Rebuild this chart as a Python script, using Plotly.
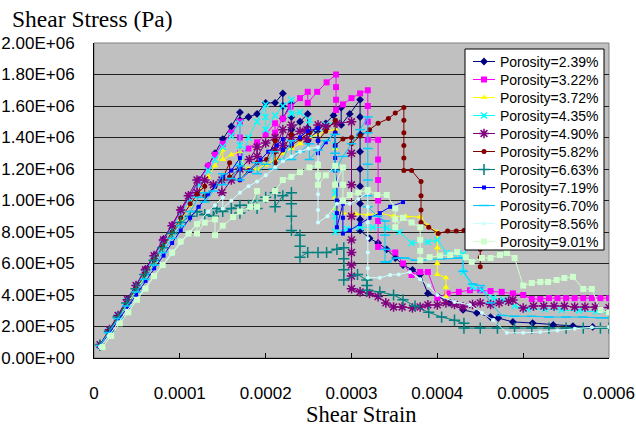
import plotly.graph_objects as go

# Strain values below are in units of 1e-4, stress values in units of 1e5 Pa.
STRAIN_UNIT = 1e-4
STRESS_UNIT = 1e5

P239 = [(0.07, 0.8), (0.17, 1.7), (0.28, 2.7), (0.38, 3.7), (0.49, 4.6), (0.59, 5.6), (0.70, 6.5), (0.80, 7.5),
        (0.91, 8.4), (1.01, 9.4), (1.12, 10.3), (1.22, 11.3), (1.33, 12.2), (1.41, 13.0), (1.50, 13.9), (1.60, 14.7),
        (1.70, 15.6), (1.70, 15.1), (1.80, 15.3), (1.90, 15.5), (2.00, 16.2), (2.11, 16.2), (2.20, 16.8), (2.20, 16.0),
        (2.20, 15.2), (2.30, 16.2), (2.30, 15.3), (2.30, 14.5), (2.40, 15.0), (2.49, 15.5), (2.49, 14.6), (2.49, 13.8),
        (2.60, 14.4), (2.70, 14.9), (2.79, 15.4), (2.88, 15.9), (2.88, 14.8), (2.98, 15.5), (3.10, 16.4), (3.10, 15.3),
        (3.10, 14.2), (3.10, 13.1), (3.10, 12.0), (3.10, 10.9), (3.10, 9.8), (3.10, 8.8), (3.10, 8.1), (3.21, 7.6),
        (3.31, 7.3), (3.41, 6.9), (3.51, 6.35), (3.60, 5.9), (3.71, 5.6), (3.80, 5.3), (3.89, 4.1), (4.01, 3.9),
        (4.15, 3.5), (4.30, 3.05), (4.46, 2.86), (4.62, 2.6), (4.71, 2.54), (4.88, 2.29), (5.11, 2.22), (5.35, 2.10),
        (5.58, 2.03), (5.81, 1.97)]

P322 = [(0.07, 0.8), (0.17, 1.7), (0.28, 2.7), (0.38, 3.6), (0.49, 4.5), (0.59, 5.5), (0.70, 6.4), (0.80, 7.4),
        (0.91, 8.4), (1.01, 9.3), (1.12, 10.3), (1.22, 11.2), (1.33, 12.2), (1.41, 12.9), (1.50, 13.6), (1.60, 14.3),
        (1.70, 15.0), (1.70, 14.0), (1.70, 13.0), (1.80, 13.3), (1.90, 13.7), (2.00, 14.2), (2.11, 14.9), (2.11, 14.3),
        (2.20, 15.2), (2.29, 15.96), (2.40, 16.5), (2.49, 16.9), (2.49, 16.2), (2.60, 16.9), (2.71, 17.5), (2.82, 18.0),
        (2.82, 17.2), (2.82, 16.4), (2.82, 15.75), (2.90, 16.1), (3.00, 16.5), (3.10, 16.8), (3.19, 17.0), (3.19, 16.0),
        (3.19, 15.0), (3.19, 13.85), (3.31, 13.85), (3.31, 12.6), (3.31, 11.3), (3.31, 10.0), (3.31, 8.7), (3.31, 7.05),
        (3.51, 6.7), (3.60, 6.0), (3.70, 5.27), (3.80, 5.46), (3.89, 5.46), (4.00, 3.8), (4.12, 4.1), (4.25, 4.2),
        (4.38, 4.3), (4.50, 4.3), (4.62, 4.25), (4.75, 4.2), (4.88, 4.1), (5.00, 4.0), (5.10, 3.75), (5.20, 3.75),
        (5.30, 3.8), (5.40, 3.8), (5.50, 3.8), (5.60, 3.8), (5.70, 3.8), (5.80, 3.8), (5.90, 3.8), (6.00, 3.8)]

P372 = [(0.07, 0.8), (0.17, 1.6), (0.28, 2.5), (0.38, 3.4), (0.49, 4.3), (0.59, 5.2), (0.70, 6.1), (0.80, 7.0),
        (0.91, 7.9), (1.01, 8.8), (1.12, 9.7), (1.22, 10.6), (1.33, 11.5), (1.41, 12.2), (1.50, 13.2), (1.50, 12.6),
        (1.60, 12.9), (1.70, 13.1), (1.70, 12.6), (1.80, 12.0), (1.90, 12.0), (2.00, 12.25), (2.11, 12.6), (2.20, 13.0),
        (2.30, 13.3), (2.40, 13.6), (2.51, 14.0), (2.61, 14.2), (2.70, 14.4), (2.81, 14.5), (2.81, 13.3), (2.81, 12.2),
        (2.81, 11.1), (2.81, 10.2), (2.81, 9.5), (2.90, 9.2), (3.05, 9.15), (3.19, 9.1), (3.33, 9.2), (3.49, 9.0),
        (3.63, 9.0), (3.80, 8.95), (3.89, 8.4), (4.00, 8.0), (4.00, 7.0), (4.00, 6.0), (4.00, 5.3), (4.10, 5.1),
        (4.10, 4.5), (4.10, 3.9)]

P435 = [(0.07, 0.8), (0.17, 1.7), (0.28, 2.6), (0.38, 3.6), (0.49, 4.5), (0.59, 5.4), (0.70, 6.3), (0.80, 7.3),
        (0.91, 8.2), (1.01, 9.1), (1.12, 10.1), (1.22, 11.0), (1.33, 11.9), (1.41, 12.6), (1.50, 13.4), (1.60, 14.1),
        (1.70, 14.9), (1.70, 13.5), (1.70, 12.2), (1.80, 14.0), (1.90, 15.0), (2.00, 16.1), (2.00, 15.3), (2.00, 14.5),
        (2.11, 15.4), (2.20, 16.0), (2.30, 16.4), (2.30, 15.5), (2.40, 15.6), (2.51, 15.1), (2.51, 14.2), (2.61, 14.6),
        (2.70, 14.8), (2.81, 15.0), (2.81, 13.5), (2.81, 12.0), (2.81, 10.5), (2.81, 9.0), (2.81, 8.0), (2.95, 8.2),
        (3.10, 8.3), (3.25, 8.3), (3.41, 8.26), (3.56, 8.0), (3.70, 7.3), (3.89, 7.37), (4.00, 7.49), (4.11, 6.67),
        (4.23, 6.67), (4.30, 6.6), (4.30, 5.46), (4.41, 4.5), (4.52, 4.32), (4.65, 3.8), (4.77, 3.7), (4.90, 3.3),
        (5.05, 3.1), (5.25, 3.1), (5.45, 3.05), (5.65, 3.0), (5.85, 2.95), (6.00, 2.9)]

P490 = [(0.07, 0.85), (0.18, 1.8), (0.28, 2.7), (0.39, 3.7), (0.49, 4.6), (0.60, 5.6), (0.70, 6.5), (0.81, 7.5),
        (0.91, 8.4), (1.01, 9.4), (1.10, 10.3), (1.20, 11.3), (1.20, 10.5), (1.29, 11.3), (1.39, 11.0), (1.49, 11.3),
        (1.49, 10.5), (1.60, 11.3), (1.70, 12.0), (1.81, 12.6), (1.90, 13.4), (1.90, 12.8), (2.00, 13.65), (2.11, 14.0),
        (2.11, 13.2), (2.20, 14.5), (2.20, 13.5), (2.30, 14.8), (2.30, 14.0), (2.40, 14.4), (2.48, 14.5), (2.48, 13.9),
        (2.61, 14.8), (2.70, 14.7), (2.83, 14.9), (3.00, 15.0), (3.00, 13.0), (3.00, 11.0), (3.00, 9.0), (3.00, 7.5),
        (3.00, 6.7), (3.00, 5.9), (3.00, 5.2), (3.00, 4.4), (3.10, 4.2), (3.21, 4.1), (3.31, 3.9), (3.40, 3.5),
        (3.49, 3.24), (3.59, 3.24), (3.71, 3.17), (3.80, 3.24), (3.89, 3.37), (4.00, 3.37), (4.10, 3.5), (4.20, 3.4),
        (4.30, 3.24), (4.41, 3.4), (4.50, 3.5), (4.62, 3.4), (4.72, 3.5), (4.83, 3.6), (4.88, 3.68), (5.00, 3.17),
        (5.12, 3.3), (5.24, 3.3), (5.36, 3.3), (5.48, 3.3), (5.60, 3.24), (5.72, 3.24), (5.84, 3.24), (6.00, 3.2)]

P582 = [(0.07, 0.8), (0.17, 1.7), (0.28, 2.6), (0.38, 3.5), (0.49, 4.4), (0.59, 5.3), (0.70, 6.2), (0.80, 7.1),
        (0.91, 8.0), (1.01, 8.9), (1.12, 9.8), (1.20, 10.4), (1.29, 10.9), (1.29, 10.3), (1.41, 10.9), (1.50, 11.4),
        (1.58, 12.4), (1.58, 11.5), (1.70, 12.0), (1.70, 11.3), (1.80, 11.9), (1.90, 12.4), (2.01, 12.6), (2.11, 13.8),
        (2.11, 13.1), (2.11, 12.4), (2.20, 13.2), (2.30, 14.2), (2.30, 13.5), (2.40, 13.9), (2.51, 14.3), (2.61, 14.6),
        (2.61, 13.8), (2.70, 14.4), (2.81, 15.1), (2.81, 14.3), (2.81, 13.5), (2.90, 13.9), (3.00, 14.0), (3.00, 13.6),
        (3.10, 14.1), (3.21, 14.5), (3.31, 14.9), (3.43, 15.2), (3.51, 15.55), (3.61, 15.9), (3.61, 15.1), (3.61, 14.3),
        (3.61, 13.5), (3.61, 12.7), (3.61, 11.9), (3.70, 11.9), (3.81, 11.2), (3.81, 10.3), (3.81, 9.4), (3.81, 8.6),
        (3.90, 8.3), (4.01, 7.9), (4.12, 8.06), (4.22, 8.06), (4.31, 8.1), (4.40, 8.2), (4.50, 6.9), (4.50, 6.4),
        (4.50, 5.8)]

P663 = [(0.07, 0.8), (0.18, 1.7), (0.28, 2.6), (0.38, 3.5), (0.49, 4.4), (0.59, 5.3), (0.70, 6.2), (0.80, 7.0),
        (0.91, 7.9), (1.01, 8.6), (1.12, 9.0), (1.20, 9.3), (1.29, 9.1), (1.39, 9.0), (1.43, 9.5), (1.50, 9.3),
        (1.60, 9.5), (1.70, 9.7), (1.70, 9.2), (1.80, 9.7), (1.90, 10.0), (1.90, 9.5), (2.00, 10.2), (2.11, 10.5),
        (2.11, 9.6), (2.20, 10.3), (2.30, 10.5), (2.30, 9.8), (2.30, 9.0), (2.30, 8.1), (2.40, 7.8), (2.40, 7.1),
        (2.40, 6.4), (2.49, 6.7), (2.61, 6.7), (2.71, 6.7), (2.83, 6.9), (2.91, 7.0), (2.91, 6.3), (2.91, 5.6),
        (2.91, 4.95), (3.07, 5.3), (3.18, 4.95), (3.18, 4.6), (3.18, 4.3), (3.33, 4.2), (3.49, 4.0), (3.60, 3.7),
        (3.74, 3.3), (3.90, 2.9), (4.05, 2.6), (4.20, 2.4), (4.31, 2.2), (4.31, 1.9), (4.50, 1.9), (4.70, 1.9),
        (4.90, 1.9), (5.10, 1.9), (5.30, 1.9), (5.50, 1.9), (5.70, 1.9), (5.90, 1.9), (6.00, 1.9)]

P719 = [(0.07, 0.7), (0.18, 1.6), (0.28, 2.4), (0.39, 3.2), (0.49, 4.0), (0.60, 4.9), (0.70, 5.7), (0.81, 6.5),
        (0.91, 7.3), (1.01, 8.1), (1.12, 8.9), (1.22, 9.6), (1.33, 10.4), (1.41, 10.9), (1.50, 11.5), (1.60, 11.9),
        (1.70, 12.7), (1.70, 12.0), (1.70, 11.3), (1.82, 11.9), (1.94, 12.6), (2.03, 13.1), (2.13, 13.5), (2.20, 13.9),
        (2.20, 13.2), (2.30, 13.6), (2.40, 14.0), (2.49, 14.4), (2.61, 14.6), (2.61, 13.8), (2.61, 13.0), (2.70, 13.7),
        (2.81, 14.3), (2.81, 13.5), (2.81, 12.7), (2.81, 11.9), (2.83, 11.0), (2.83, 10.0), (2.83, 9.2), (2.83, 8.3),
        (2.90, 9.8), (2.90, 8.9), (2.90, 7.9), (2.98, 8.1), (3.10, 8.5), (3.21, 8.9), (3.33, 9.2), (3.45, 9.6),
        (3.60, 9.9)]

P670 = [(0.07, 0.8), (0.17, 1.6), (0.28, 2.5), (0.38, 3.3), (0.49, 4.2), (0.59, 5.0), (0.70, 5.9), (0.80, 6.7),
        (0.91, 7.6), (1.01, 8.4), (1.12, 9.3), (1.22, 10.2), (1.29, 10.5), (1.29, 9.9), (1.39, 10.6), (1.50, 11.7),
        (1.50, 11.0), (1.60, 11.4), (1.70, 12.2), (1.70, 11.3), (1.81, 11.9), (1.90, 12.4), (1.90, 11.7), (2.00, 12.3),
        (2.09, 13.1), (2.09, 12.0), (2.20, 12.6), (2.30, 13.8), (2.30, 12.6), (2.40, 13.1), (2.51, 13.6), (2.51, 12.6),
        (2.61, 13.2), (2.70, 13.8), (2.81, 14.2), (2.81, 13.0), (2.81, 11.9), (2.90, 12.8), (3.00, 13.6), (3.10, 14.5),
        (3.19, 15.3), (3.19, 14.3), (3.19, 13.3), (3.19, 12.3), (3.19, 11.3), (3.19, 10.3), (3.19, 9.6), (3.30, 9.0),
        (3.39, 8.7), (3.39, 7.8), (3.39, 6.9), (3.39, 6.1), (3.41, 6.1), (3.53, 6.35), (3.62, 6.35), (3.75, 6.2),
        (3.90, 6.25), (4.05, 6.3), (4.20, 6.35), (4.30, 6.35), (4.30, 5.5), (4.41, 4.7), (4.50, 4.6), (4.62, 3.5),
        (4.75, 2.7), (4.90, 2.65), (5.10, 2.65), (5.30, 2.6), (5.50, 2.6), (5.70, 2.6), (5.90, 2.55), (6.00, 2.55)]

P856 = [(0.07, 0.7), (0.17, 1.4), (0.28, 2.2), (0.38, 3.0), (0.49, 3.7), (0.59, 4.4), (0.70, 5.2), (0.80, 5.9),
        (0.91, 6.6), (1.01, 7.3), (1.12, 8.0), (1.22, 8.6), (1.33, 9.3), (1.41, 9.7), (1.50, 10.2), (1.50, 9.5),
        (1.60, 10.0), (1.70, 10.5), (1.80, 10.9), (1.90, 11.2), (2.00, 11.6), (2.11, 12.1), (2.20, 12.5), (2.30, 12.8),
        (2.40, 13.1), (2.50, 13.3), (2.61, 13.4), (2.61, 12.4), (2.61, 11.4), (2.61, 10.4), (2.61, 9.4), (2.61, 8.6),
        (2.72, 9.0), (2.83, 9.8), (2.98, 9.8), (3.08, 10.1), (3.19, 10.5), (3.19, 9.6), (3.19, 8.6), (3.19, 7.6),
        (3.19, 6.7), (3.19, 5.7), (3.19, 5.1), (3.33, 5.1), (3.45, 5.27), (3.55, 5.3), (3.68, 5.46), (3.80, 5.0),
        (3.90, 4.6), (4.00, 4.0), (4.20, 3.56), (4.38, 3.37), (4.52, 2.86), (4.65, 2.41), (4.81, 1.6), (5.00, 1.6),
        (5.20, 1.65), (5.40, 1.75), (5.60, 1.85), (5.80, 1.95), (6.00, 1.97)]

P901 = [(0.10, 0.7), (0.20, 1.4), (0.30, 2.2), (0.40, 2.9), (0.50, 3.7), (0.60, 4.4), (0.70, 5.2), (0.80, 5.9),
        (0.91, 6.7), (1.01, 7.4), (1.10, 7.9), (1.20, 8.5), (1.20, 7.9), (1.29, 8.6), (1.41, 8.8), (1.41, 7.8),
        (1.50, 8.4), (1.62, 8.95), (1.70, 9.3), (1.82, 9.6), (1.90, 10.6), (1.90, 9.6), (2.00, 10.1), (2.11, 10.6),
        (2.20, 11.3), (2.30, 11.5), (2.40, 11.8), (2.51, 12.1), (2.61, 12.25), (2.61, 11.6), (2.61, 11.0), (2.70, 11.6),
        (2.81, 12.2), (2.81, 11.0), (2.90, 12.1), (2.90, 11.0), (2.90, 10.0), (2.98, 10.35), (3.08, 10.5), (3.19, 10.67),
        (3.30, 10.35), (3.41, 10.35), (3.51, 9.5), (3.51, 8.8), (3.51, 8.3), (3.60, 8.9), (3.70, 8.6), (3.80, 8.3),
        (3.80, 7.5), (3.80, 6.8), (3.80, 6.2), (3.91, 6.4), (4.03, 6.5), (4.15, 6.54), (4.23, 6.73), (4.33, 6.4),
        (4.40, 6.1), (4.52, 6.35), (4.62, 6.35), (4.73, 6.54), (4.81, 6.67), (4.90, 6.35), (5.00, 4.6), (5.10, 4.76),
        (5.20, 4.83), (5.29, 4.83), (5.39, 4.95), (5.48, 5.08), (5.58, 5.15), (5.70, 4.38), (5.80, 4.38), (5.90, 3.05),
        (6.00, 2.9)]

SERIES_NAMES = ["Porosity=2.39%", "Porosity=3.22%", "Porosity=3.72%", "Porosity=4.35%", "Porosity=4.90%",
                "Porosity=5.82%", "Porosity=6.63%", "Porosity=7.19%", "Porosity=6.70%", "Porosity=8.56%",
                "Porosity=9.01%"]
SERIES_DATA = [P239, P322, P372, P435, P490, P582, P663, P719, P670, P856, P901]

X_TICKS = [0, 0.0001, 0.0002, 0.0003, 0.0004, 0.0005, 0.0006]
X_LABELS = ["0", "0.0001", "0.0002", "0.0003", "0.0004", "0.0005", "0.0006"]
Y_TICKS = [0, 2e5, 4e5, 6e5, 8e5, 1e6, 1.2e6, 1.4e6, 1.6e6, 1.8e6, 2e6]
Y_LABELS = ["0.00E+00", "2.00E+05", "4.00E+05", "6.00E+05", "8.00E+05", "1.00E+06",
            "1.20E+06", "1.40E+06", "1.60E+06", "1.80E+06", "2.00E+06"]

# colour, marker symbol, marker size, outline-only marker
STYLES = [
    ("#000080", "diamond", 6, False),
    ("#FF00FF", "square", 6, False),
    ("#FFFF00", "triangle-up", 6, False),
    ("#00FFFF", "x-thin", 6, True),
    ("#800080", "asterisk", 8, True),
    ("#800000", "circle", 5, False),
    ("#008080", "cross-thin", 8, True),
    ("#0000FF", "square", 4, False),
    ("#00CCFF", "line-ew", 7, True),
    ("#CCFFFF", "circle", 4, False),
    ("#CCFFCC", "square", 6, False),
]

SANS = "Liberation Sans, Arial, sans-serif"
SERIF = "Liberation Serif, Times New Roman, serif"

# Plot area in pixels (the legend is laid out on an overlay in these units)
PLOT_W, PLOT_H = 515, 315
KEY_BOX = (371, 510, 6, 207)       # left, right, top, bottom
KEY_ROW0, KEY_ROW_STEP = 18.5, 18.0
KEY_LINE = (379, 390, 401)        # line start, marker, line end
KEY_TEXT_X = 404


def marker_style(color, symbol, size, outline):
    m = dict(symbol=symbol, size=size, color=color)
    m["line"] = dict(width=1.5, color=color) if outline else dict(width=0)
    return m


fig = go.Figure()
for name, pts, (color, symbol, size, outline) in zip(SERIES_NAMES, SERIES_DATA, STYLES):
    xs = [p[0] * STRAIN_UNIT for p in pts]
    ys = [p[1] * STRESS_UNIT for p in pts]
    fig.add_trace(go.Scatter(x=xs, y=ys, name=name, mode="lines+markers",
                             line=dict(color=color, width=1),
                             marker=marker_style(color, symbol, size, outline)))

# legend frame on the overlay axes so it sits above the curves
l, r, t, b = KEY_BOX
fig.add_trace(go.Scatter(x=[l, r, r, l, l], y=[t, t, b, b, t], xaxis="x2", yaxis="y2",
                         mode="lines", fill="toself", fillcolor="white",
                         line=dict(color="black", width=1), hoverinfo="skip"))

annotations = []
for i, (name, (color, symbol, size, outline)) in enumerate(zip(SERIES_NAMES, STYLES)):
    row_y = KEY_ROW0 + i * KEY_ROW_STEP
    m = marker_style(color, symbol, size, outline)
    m["opacity"] = [0, 1, 0]
    fig.add_trace(go.Scatter(x=list(KEY_LINE), y=[row_y] * 3, xaxis="x2", yaxis="y2",
                             mode="lines+markers", line=dict(color=color, width=1),
                             marker=m, hoverinfo="skip"))
    annotations.append(dict(text=name, xref="x2", yref="y2", x=KEY_TEXT_X, y=row_y,
                            xanchor="left", yanchor="middle", showarrow=False,
                            font=dict(family=SANS, size=14, color="black")))

annotations += [
    dict(text="Shear Stress (Pa)", xref="paper", yref="paper", x=-0.163, y=1.076,
         xanchor="left", yanchor="middle", showarrow=False,
         font=dict(family=SERIF, size=23.5, color="black")),
    dict(text="Shear Strain", xref="paper", yref="paper", x=0.52, y=-0.18,
         xanchor="center", yanchor="middle", showarrow=False,
         font=dict(family=SERIF, size=22.5, color="black")),
]

fig.update_layout(
    width=636, height=431,
    margin=dict(l=94, r=27, t=43, b=73, autoexpand=False),
    paper_bgcolor="white",
    plot_bgcolor="#C0C0C0",
    font=dict(family=SANS, size=16, color="black"),
    showlegend=False,
    xaxis=dict(range=[0, 0.0006], tickmode="array", tickvals=X_TICKS, ticktext=X_LABELS,
               ticks="inside", ticklen=5, tickcolor="black", tickwidth=1,
               showline=True, linecolor="black", linewidth=1, mirror=False,
               showgrid=False, zeroline=False, ticklabelstandoff=20, automargin=False,
               tickfont=dict(family=SANS, size=17)),
    yaxis=dict(range=[0, 2e6], tickmode="array", tickvals=Y_TICKS, ticktext=Y_LABELS,
               ticks="", showline=True, linecolor="black", linewidth=1,
               showgrid=True, gridcolor="#202020", gridwidth=1.3, zeroline=False,
               ticklabelstandoff=15, automargin=False, tickfont=dict(family=SANS, size=17)),
    xaxis2=dict(overlaying="x", anchor="y2", range=[0, PLOT_W], visible=False, fixedrange=True),
    yaxis2=dict(overlaying="y", anchor="x2", range=[PLOT_H, 0], visible=False, fixedrange=True),
    shapes=[dict(type="rect", xref="paper", yref="paper", x0=0, y0=0, x1=1, y1=1,
                 line=dict(color="#808080", width=1), layer="below")],
    annotations=annotations,
)

fig.write_html("out.html")
